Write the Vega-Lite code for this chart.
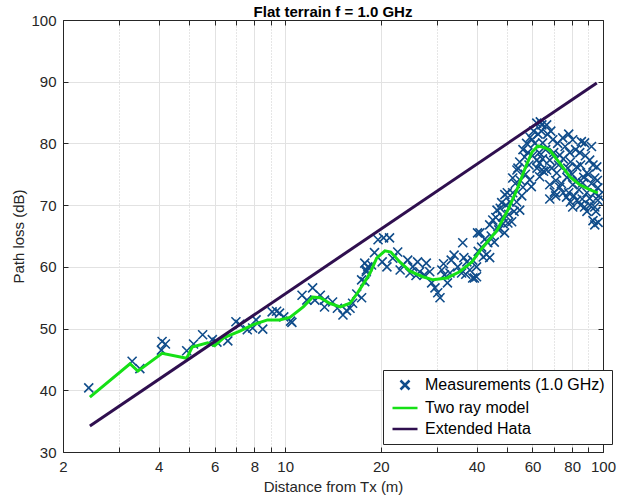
{
  "$schema": "https://vega.github.io/schema/vega-lite/v6.json",
  "width": 540,
  "height": 432,
  "autosize": {"type": "none"},
  "padding": {"left": 63, "top": 20, "right": 38, "bottom": 46},
  "background": "white",
  "title": {
    "text": "Flat terrain f = 1.0 GHz",
    "font": "Liberation Sans",
    "fontSize": 15,
    "fontWeight": "bold",
    "color": "black",
    "anchor": "middle",
    "offset": -7
  },
  "datasets": {
    "measurements": [
      {"d": 2.41, "pl": 40.4}, {"d": 3.3, "pl": 44.7}, {"d": 3.49, "pl": 43.5}, {"d": 4.1, "pl": 47.9},
      {"d": 4.2, "pl": 47.5}, {"d": 4.08, "pl": 46.5}, {"d": 4.9, "pl": 46.4}, {"d": 5.15, "pl": 47.5},
      {"d": 5.5, "pl": 49.0}, {"d": 5.9, "pl": 48.2}, {"d": 6.1, "pl": 47.8}, {"d": 6.6, "pl": 48.0},
      {"d": 7.0, "pl": 51.1}, {"d": 7.2, "pl": 50.7}, {"d": 7.6, "pl": 49.8}, {"d": 7.9, "pl": 50.1},
      {"d": 8.1, "pl": 51.4}, {"d": 8.5, "pl": 49.9}, {"d": 9.1, "pl": 52.7}, {"d": 9.4, "pl": 52.8},
      {"d": 9.6, "pl": 52.5}, {"d": 9.9, "pl": 51.9}, {"d": 10.4, "pl": 51.2}, {"d": 10.5, "pl": 51.0},
      {"d": 11.3, "pl": 55.4}, {"d": 11.7, "pl": 54.6}, {"d": 12.2, "pl": 56.6}, {"d": 12.4, "pl": 54.6},
      {"d": 12.9, "pl": 55.4}, {"d": 13.3, "pl": 54.6}, {"d": 13.3, "pl": 53.5}, {"d": 14.1, "pl": 54.3},
      {"d": 14.6, "pl": 53.3}, {"d": 15.2, "pl": 52.2}, {"d": 15.6, "pl": 52.9}, {"d": 16.0, "pl": 53.3},
      {"d": 16.3, "pl": 54.1}, {"d": 16.8, "pl": 55.6}, {"d": 17.4, "pl": 55.0}, {"d": 17.4, "pl": 57.9},
      {"d": 17.8, "pl": 57.6}, {"d": 18.0, "pl": 59.5}, {"d": 17.8, "pl": 60.6}, {"d": 18.2, "pl": 60.0},
      {"d": 18.0, "pl": 59.2}, {"d": 18.7, "pl": 60.3}, {"d": 19.1, "pl": 62.3}, {"d": 19.6, "pl": 64.4},
      {"d": 20.4, "pl": 64.7}, {"d": 21.3, "pl": 64.7}, {"d": 20.2, "pl": 60.8}, {"d": 20.9, "pl": 60.0},
      {"d": 21.8, "pl": 61.4}, {"d": 22.6, "pl": 62.4}, {"d": 23.4, "pl": 60.3}, {"d": 24.3, "pl": 61.1},
      {"d": 24.7, "pl": 59.0}, {"d": 25.2, "pl": 60.0}, {"d": 26.1, "pl": 60.8}, {"d": 26.5, "pl": 59.2},
      {"d": 27.8, "pl": 60.6}, {"d": 27.4, "pl": 58.7}, {"d": 28.5, "pl": 59.2}, {"d": 28.9, "pl": 57.4},
      {"d": 29.6, "pl": 56.6}, {"d": 30.2, "pl": 55.8}, {"d": 30.7, "pl": 55.0}, {"d": 31.1, "pl": 59.5},
      {"d": 31.7, "pl": 58.7}, {"d": 32.4, "pl": 57.4}, {"d": 33.3, "pl": 61.1}, {"d": 34.0, "pl": 61.9},
      {"d": 34.9, "pl": 60.0}, {"d": 35.9, "pl": 59.0}, {"d": 36.2, "pl": 63.9}, {"d": 37.3, "pl": 60.8},
      {"d": 38.1, "pl": 59.5}, {"d": 38.9, "pl": 61.1}, {"d": 40.0, "pl": 58.4}, {"d": 40.3, "pl": 65.5},
      {"d": 39.4, "pl": 58.2}, {"d": 23.0, "pl": 59.5}, {"d": 25.8, "pl": 58.6}, {"d": 31.5, "pl": 60.5},
      {"d": 33.0, "pl": 59.0}, {"d": 36.5, "pl": 61.5}, {"d": 37.0, "pl": 58.8},
      {"d": 38.9, "pl": 58.2}, {"d": 40.0, "pl": 60.0}, {"d": 41.0, "pl": 65.5}, {"d": 42.0, "pl": 61.6},
      {"d": 43.4, "pl": 63.9}, {"d": 44.0, "pl": 66.8}, {"d": 45.0, "pl": 67.6}, {"d": 46.4, "pl": 69.2},
      {"d": 46.7, "pl": 66.5}, {"d": 48.0, "pl": 70.4}, {"d": 48.3, "pl": 68.1}, {"d": 49.1, "pl": 71.7},
      {"d": 50.2, "pl": 67.1}, {"d": 51.6, "pl": 67.3}, {"d": 52.0, "pl": 74.4}, {"d": 53.6, "pl": 75.7},
      {"d": 54.7, "pl": 69.2}, {"d": 54.7, "pl": 77.0}, {"d": 56.7, "pl": 77.8}, {"d": 58.0, "pl": 78.5},
      {"d": 56.0, "pl": 72.9}, {"d": 58.8, "pl": 74.1}, {"d": 59.8, "pl": 80.6}, {"d": 61.9, "pl": 83.3},
      {"d": 64.2, "pl": 83.0}, {"d": 61.9, "pl": 77.3}, {"d": 64.2, "pl": 75.7},
      {"d": 40.5, "pl": 62.5}, {"d": 41.5, "pl": 63.2}, {"d": 42.5, "pl": 64.5}, {"d": 43.0, "pl": 62.0},
      {"d": 44.5, "pl": 65.0}, {"d": 45.5, "pl": 64.0}, {"d": 44.0, "pl": 61.5}, {"d": 46.0, "pl": 68.0},
      {"d": 47.0, "pl": 66.0}, {"d": 47.5, "pl": 69.5}, {"d": 48.5, "pl": 67.0}, {"d": 49.5, "pl": 70.0},
      {"d": 49.0, "pl": 65.5}, {"d": 50.0, "pl": 72.0}, {"d": 50.5, "pl": 68.5}, {"d": 51.0, "pl": 70.5},
      {"d": 52.0, "pl": 72.0}, {"d": 52.5, "pl": 69.0}, {"d": 53.0, "pl": 73.5}, {"d": 53.5, "pl": 70.5},
      {"d": 54.0, "pl": 76.0}, {"d": 55.0, "pl": 74.0}, {"d": 55.5, "pl": 71.5}, {"d": 56.0, "pl": 79.0},
      {"d": 57.0, "pl": 75.0}, {"d": 57.5, "pl": 80.0}, {"d": 58.5, "pl": 76.5}, {"d": 59.0, "pl": 81.0},
      {"d": 59.5, "pl": 73.0}, {"d": 60.0, "pl": 78.0}, {"d": 60.5, "pl": 82.0}, {"d": 61.0, "pl": 80.0},
      {"d": 62.0, "pl": 76.0}, {"d": 62.5, "pl": 81.5}, {"d": 63.0, "pl": 78.5}, {"d": 64.0, "pl": 82.0},
      {"d": 64.5, "pl": 77.5}, {"d": 65.0, "pl": 75.5}, {"d": 63.5, "pl": 83.5},
      {"d": 66.5, "pl": 83.0}, {"d": 64.6, "pl": 80.1}, {"d": 69.5, "pl": 80.6}, {"d": 74.7, "pl": 80.9},
      {"d": 80.3, "pl": 80.6}, {"d": 87.5, "pl": 80.1}, {"d": 68.0, "pl": 77.3}, {"d": 73.1, "pl": 78.1},
      {"d": 78.6, "pl": 78.5}, {"d": 84.5, "pl": 78.5}, {"d": 90.8, "pl": 77.3}, {"d": 95.6, "pl": 76.2},
      {"d": 66.5, "pl": 75.7}, {"d": 71.5, "pl": 75.2}, {"d": 77.5, "pl": 76.0}, {"d": 82.7, "pl": 76.2},
      {"d": 88.9, "pl": 75.2}, {"d": 94.2, "pl": 74.4}, {"d": 68.0, "pl": 73.3}, {"d": 73.1, "pl": 72.9},
      {"d": 80.3, "pl": 73.3}, {"d": 86.3, "pl": 73.6}, {"d": 96.3, "pl": 72.8}, {"d": 70.3, "pl": 72.1},
      {"d": 76.8, "pl": 71.3}, {"d": 82.7, "pl": 70.8}, {"d": 90.8, "pl": 71.1}, {"d": 96.3, "pl": 70.8},
      {"d": 80.3, "pl": 69.7}, {"d": 87.5, "pl": 69.7}, {"d": 94.2, "pl": 69.7}, {"d": 94.2, "pl": 66.8},
      {"d": 63.2, "pl": 76.8}, {"d": 63.2, "pl": 74.6},
      {"d": 66.0, "pl": 79.0}, {"d": 67.0, "pl": 81.5}, {"d": 68.5, "pl": 82.0}, {"d": 69.0, "pl": 76.0},
      {"d": 70.0, "pl": 78.5}, {"d": 71.0, "pl": 74.0}, {"d": 72.0, "pl": 80.0}, {"d": 72.5, "pl": 76.5},
      {"d": 74.0, "pl": 73.5}, {"d": 75.0, "pl": 77.5}, {"d": 76.0, "pl": 79.5}, {"d": 77.0, "pl": 74.5},
      {"d": 78.0, "pl": 72.0}, {"d": 79.0, "pl": 77.0}, {"d": 80.0, "pl": 75.0}, {"d": 81.0, "pl": 71.5},
      {"d": 82.0, "pl": 79.0}, {"d": 83.0, "pl": 74.0}, {"d": 84.0, "pl": 72.5}, {"d": 85.0, "pl": 76.5},
      {"d": 86.0, "pl": 71.0}, {"d": 87.0, "pl": 74.5}, {"d": 88.0, "pl": 78.0}, {"d": 89.0, "pl": 72.0},
      {"d": 90.0, "pl": 75.0}, {"d": 91.0, "pl": 70.0}, {"d": 92.0, "pl": 73.5}, {"d": 93.0, "pl": 76.5},
      {"d": 94.0, "pl": 72.0}, {"d": 95.0, "pl": 69.0}, {"d": 96.0, "pl": 74.0}, {"d": 97.0, "pl": 71.5},
      {"d": 93.0, "pl": 67.5}, {"d": 89.0, "pl": 69.0}, {"d": 85.0, "pl": 70.0}, {"d": 79.0, "pl": 70.5},
      {"d": 75.0, "pl": 72.0}, {"d": 71.0, "pl": 71.5}, {"d": 68.0, "pl": 71.0}, {"d": 92.0, "pl": 79.5},
      {"d": 85.5, "pl": 80.3}, {"d": 78.0, "pl": 81.5}, {"d": 96.5, "pl": 67.2}
    ],
    "tworay": [
      {"d": 2.43, "pl": 38.9}, {"d": 3.25, "pl": 44.3}, {"d": 3.44, "pl": 43.1}, {"d": 4.1, "pl": 46.0},
      {"d": 4.9, "pl": 45.2}, {"d": 5.1, "pl": 47.0}, {"d": 5.7, "pl": 47.7}, {"d": 6.0, "pl": 47.2},
      {"d": 6.4, "pl": 48.5}, {"d": 7.2, "pl": 49.6}, {"d": 7.9, "pl": 50.6}, {"d": 8.8, "pl": 51.4},
      {"d": 9.6, "pl": 51.4}, {"d": 10.35, "pl": 51.8}, {"d": 11.4, "pl": 53.5}, {"d": 12.2, "pl": 55.1},
      {"d": 12.9, "pl": 55.0}, {"d": 13.8, "pl": 54.1}, {"d": 14.9, "pl": 53.5}, {"d": 16.0, "pl": 54.1},
      {"d": 16.9, "pl": 55.8}, {"d": 17.7, "pl": 57.4}, {"d": 18.5, "pl": 59.0}, {"d": 19.4, "pl": 61.4},
      {"d": 20.6, "pl": 62.6}, {"d": 21.5, "pl": 62.4}, {"d": 22.95, "pl": 60.8}, {"d": 24.7, "pl": 59.3},
      {"d": 27.1, "pl": 58.4}, {"d": 29.2, "pl": 57.9}, {"d": 32.3, "pl": 58.2}, {"d": 35.4, "pl": 59.2},
      {"d": 38.7, "pl": 60.8}, {"d": 41.0, "pl": 62.6}, {"d": 43.5, "pl": 64.2}, {"d": 46.4, "pl": 65.9},
      {"d": 50.2, "pl": 69.2}, {"d": 53.6, "pl": 72.5}, {"d": 57.1, "pl": 76.2}, {"d": 59.8, "pl": 78.6},
      {"d": 62.4, "pl": 79.6}, {"d": 65.6, "pl": 79.3}, {"d": 68.0, "pl": 78.9}, {"d": 73.1, "pl": 76.8},
      {"d": 78.6, "pl": 74.6}, {"d": 84.5, "pl": 73.3}, {"d": 90.8, "pl": 72.5}, {"d": 96.3, "pl": 72.0}
    ],
    "hata": [
      {"d": 2.43, "pl": 34.2}, {"d": 95.6, "pl": 89.8}
    ]
  },
  "layer": [
    {
      "data": {"name": "measurements"},
      "mark": {"type": "point", "filled": false, "size": 100, "strokeWidth": 1.6, "opacity": 1},
      "encoding": {
        "x": {
          "field": "d", "type": "quantitative",
          "scale": {"type": "log", "domain": [2, 100], "nice": false},
          "axis": {
            "orient": "bottom",
            "title": "Distance from Tx (m)",
            "values": [2, 3, 4, 5, 6, 7, 8, 9, 10, 20, 30, 40, 50, 60, 70, 80, 90, 100],
            "labelExpr": "indexof([2,4,6,8,10,20,40,60,80,100], datum.value) >= 0 ? format(datum.value, 'd') : ''",
            "labelOverlap": false, "labelFlush": false, "labelBound": false,
            "tickSize": -5, "labelPadding": 12, "titlePadding": 5,
            "grid": true,
            "gridColor": {"condition": {"test": "indexof([3,5,7,9,30,50,70,90], datum.value) >= 0", "value": "#cdcdcd"}, "value": "#e2e2e2"},
            "gridDash": {"condition": {"test": "indexof([3,5,7,9,30,50,70,90], datum.value) >= 0", "value": [1, 2]}, "value": []}
          }
        },
        "y": {
          "field": "pl", "type": "quantitative",
          "scale": {"domain": [30, 100], "nice": false, "zero": false},
          "axis": {
            "orient": "left",
            "title": "Path loss (dB)",
            "values": [30, 40, 50, 60, 70, 80, 90, 100],
            "tickSize": -5, "labelPadding": 12, "titlePadding": 4,
            "grid": true, "gridColor": "#e2e2e2"
          }
        },
        "color": {
          "datum": "Measurements (1.0 GHz)", "type": "nominal",
          "scale": {"domain": ["Measurements (1.0 GHz)", "Two ray model", "Extended Hata"], "range": ["#0f4c8a", "#16e016", "#2f0f4f"]},
          "legend": {
            "orient": "none", "legendX": 320, "legendY": 350, "title": null,
            "strokeColor": "#262626", "fillColor": "white", "padding": 7, "cornerRadius": 0,
            "labelFont": "Liberation Sans", "labelFontSize": 16, "labelColor": "black", "labelLimit": 400,
            "symbolSize": 100, "symbolStrokeWidth": 2.5, "symbolOffset": 7, "labelOffset": 12, "rowPadding": 5
          }
        },
        "shape": {
          "datum": "Measurements (1.0 GHz)", "type": "nominal",
          "scale": {"domain": ["Measurements (1.0 GHz)", "Two ray model", "Extended Hata"], "range": ["M-0.9,-0.9L0.9,0.9M0.9,-0.9L-0.9,0.9", "M-2.5,0H2.5", "M-2.5,0H2.5"]}
        }
      }
    },
    {
      "data": {"name": "tworay"},
      "mark": {"type": "line", "strokeWidth": 3},
      "encoding": {
        "x": {"field": "d", "type": "quantitative", "scale": {"type": "log", "domain": [2, 100], "nice": false}, "axis": null},
        "y": {"field": "pl", "type": "quantitative", "scale": {"domain": [30, 100], "nice": false, "zero": false}, "axis": null},
        "color": {
          "datum": "Two ray model", "type": "nominal",
          "scale": {"domain": ["Measurements (1.0 GHz)", "Two ray model", "Extended Hata"], "range": ["#0f4c8a", "#16e016", "#2f0f4f"]}
        }
      }
    },
    {
      "data": {"name": "hata"},
      "mark": {"type": "line", "strokeWidth": 3},
      "encoding": {
        "x": {
          "field": "d", "type": "quantitative",
          "scale": {"type": "log", "domain": [2, 100], "nice": false},
          "axis": {
            "orient": "top", "title": null, "labels": false, "grid": false, "tickSize": -5,
            "values": [2, 3, 4, 5, 6, 7, 8, 9, 10, 20, 30, 40, 50, 60, 70, 80, 90, 100]
          }
        },
        "y": {
          "field": "pl", "type": "quantitative",
          "scale": {"domain": [30, 100], "nice": false, "zero": false},
          "axis": {
            "orient": "right", "title": null, "labels": false, "grid": false, "tickSize": -5,
            "values": [30, 40, 50, 60, 70, 80, 90, 100]
          }
        },
        "color": {
          "datum": "Extended Hata", "type": "nominal",
          "scale": {"domain": ["Measurements (1.0 GHz)", "Two ray model", "Extended Hata"], "range": ["#0f4c8a", "#16e016", "#2f0f4f"]}
        }
      }
    }
  ],
  "resolve": {"axis": {"x": "independent", "y": "independent"}},
  "config": {
    "view": {"stroke": null},
    "axis": {
      "domainColor": "#262626", "tickColor": "#262626", "labelColor": "#262626", "titleColor": "#262626",
      "labelFont": "Liberation Sans", "titleFont": "Liberation Sans",
      "labelFontSize": 15, "titleFontSize": 15, "titleFontWeight": "normal",
      "domainWidth": 1, "tickWidth": 1, "gridWidth": 1, "gridOpacity": 1
    }
  }
}
